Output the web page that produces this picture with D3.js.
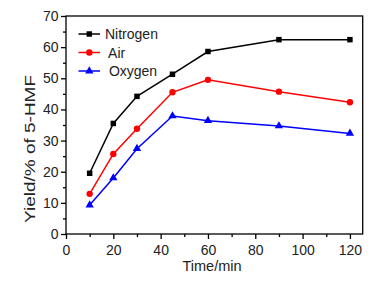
<!DOCTYPE html>
<html><head><meta charset="utf-8">
<script src="https://cdn.jsdelivr.net/npm/d3@7"></script>
<style>body{margin:0;background:#fff}svg{display:block}</style>
</head><body>
<script>
const times = [10, 20, 30, 45, 60, 90, 120];
const nitrogen = [19.5, 35.5, 44.2, 51.3, 58.6, 62.4, 62.4];
const air = [12.9, 25.7, 33.8, 45.5, 49.5, 45.7, 42.3];
const oxygen = [9.3, 18.0, 27.4, 37.9, 36.4, 34.7, 32.3];
const seriesNames = ["Nitrogen", " Air", " Oxygen"];
const xTicks = [0, 20, 40, 60, 80, 100, 120];
const yTicks = [0, 10, 20, 30, 40, 50, 60, 70];

const W = 391, H = 284;
const svg = d3.select("body").append("svg").attr("width", W).attr("height", H);
const x = d3.scaleLinear().domain([0, 125.4]).range([66, 362.7]);
const y = d3.scaleLinear().domain([0, 70]).range([234, 16]);
const font = "Arial, 'Liberation Sans', sans-serif";

// frame
svg.append("rect").attr("x", 66).attr("y", 16).attr("width", 296.7).attr("height", 218)
  .attr("fill", "none").attr("stroke", "#000").attr("stroke-width", 1.3);

// x axis
const xa = svg.append("g").attr("transform", "translate(0,234)");
xa.call(d3.axisBottom(x).tickValues(d3.range(10, 121, 20)).tickSize(3).tickFormat(""));
xa.call(g => g.append("g").call(d3.axisBottom(x).tickValues(xTicks).tickSize(5).tickFormat(d3.format("d"))));
xa.selectAll(".domain").remove();
xa.selectAll("line").attr("stroke", "#000").attr("stroke-width", 1.3);
xa.selectAll("text").attr("font-family", font).attr("font-size", 14).attr("fill", "#222").attr("dy", "0.9em");

// y axis
const ya = svg.append("g").attr("transform", "translate(66,0)");
ya.call(d3.axisLeft(y).tickValues(d3.range(5, 70, 10)).tickSize(3).tickFormat(""));
ya.call(g => g.append("g").call(d3.axisLeft(y).tickValues(yTicks).tickSize(5).tickPadding(2.5).tickFormat(d3.format("d"))));
ya.selectAll(".domain").remove();
ya.selectAll("line").attr("stroke", "#000").attr("stroke-width", 1.3);
ya.selectAll("text").attr("font-family", font).attr("font-size", 14).attr("fill", "#222");

// axis titles
svg.append("text").attr("x", 212).attr("y", 271).attr("text-anchor", "middle")
  .attr("font-family", font).attr("font-size", 14.5).attr("fill", "#222").text("Time/min");
svg.append("text").attr("transform", "translate(35,149) rotate(-90)").attr("text-anchor", "middle")
  .attr("font-family", font).attr("font-size", 15).attr("fill", "#222")
  .attr("textLength", 148).attr("lengthAdjust", "spacingAndGlyphs").text("Yield/% of 5-HMF");

const series = [
  {name: seriesNames[0], vals: nitrogen, color: "#000", sym: d3.symbolSquare, size: 30},
  {name: seriesNames[1], vals: air, color: "#ff0000", sym: d3.symbolCircle, size: 32},
  {name: seriesNames[2], vals: oxygen, color: "#0000ff", sym: d3.symbolTriangle, size: 30}
];
const line = d3.line().x(d => x(d[0])).y(d => y(d[1]));
series.forEach(s => {
  const pts = times.map((t, i) => [t, s.vals[i]]);
  svg.append("path").attr("d", line(pts)).attr("fill", "none").attr("stroke", s.color).attr("stroke-width", 1.5);
  svg.selectAll(null).data(pts).enter().append("path")
    .attr("d", d3.symbol().type(s.sym).size(s.size))
    .attr("transform", d => `translate(${x(d[0])},${y(d[1])})`)
    .attr("fill", s.color);
});

// legend
series.forEach((s, i) => {
  const ly = 34 + i * 18.5;
  svg.append("line").attr("x1", 78.5).attr("x2", 100).attr("y1", ly).attr("y2", ly)
    .attr("stroke", s.color).attr("stroke-width", 1.5);
  svg.append("path").attr("d", d3.symbol().type(s.sym).size(s.size)).attr("transform", `translate(89.3,${ly})`).attr("fill", s.color);
  svg.append("text").attr("x", 105).attr("y", ly + 5).attr("font-family", font).attr("font-size", 14)
    .attr("fill", "#222").attr("xml:space", "preserve").style("white-space", "pre").text(s.name);
});
</script>
</body></html>
